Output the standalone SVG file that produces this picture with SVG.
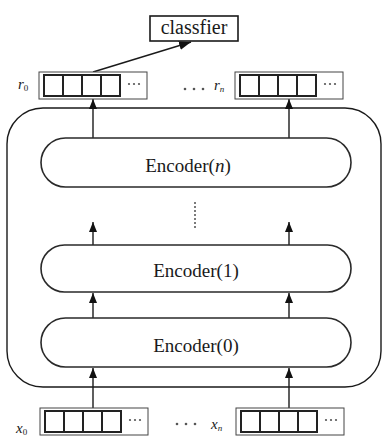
<svg xmlns="http://www.w3.org/2000/svg" width="388" height="441" viewBox="0 0 388 441">
<defs>
<style>
.ln{stroke:#1a1a1a;stroke-width:1.4;fill:none}
.pill{stroke:#2a2a2a;stroke-width:1.6;fill:#fff}
.vo{stroke:#444;stroke-width:1;fill:#fff}
.vc{stroke:#222;stroke-width:2;fill:#fff}
.dv{stroke:#222;stroke-width:2}
.dot{fill:#555}
.t{font-family:"Liberation Serif","Times New Roman",serif;fill:#1a1a1a}
.lab{font-family:"Liberation Serif","Times New Roman",serif;font-style:italic;font-size:15px;fill:#1a1a1a}
.sub{font-size:9px;font-style:normal}
.subi{font-size:9px}
</style>
<marker id="ah" viewBox="0 0 10 8" refX="10" refY="4" markerWidth="10" markerHeight="8" markerUnits="userSpaceOnUse" orient="auto">
<path d="M0,0 L10,4 L0,8 Z" fill="#111"/>
</marker>
<marker id="ahb" viewBox="0 0 12 9" refX="12" refY="4.5" markerWidth="12" markerHeight="9" markerUnits="userSpaceOnUse" orient="auto">
<path d="M0,0 L12,4.5 L0,9 Z" fill="#111"/>
</marker>
</defs>
<rect width="388" height="441" fill="#fff"/>

<g id="container">
<rect x="7" y="108" width="374" height="279" rx="36" ry="36" class="ln" stroke-width="1.6"/>
</g>

<g id="connectors">
<line x1="93" y1="72" x2="191" y2="42" class="ln" marker-end="url(#ahb)"/>
<line x1="93" y1="138" x2="93" y2="99" class="ln" marker-end="url(#ah)"/>
<line x1="289" y1="138" x2="289" y2="99" class="ln" marker-end="url(#ah)"/>
<line x1="93" y1="245" x2="93" y2="222" class="ln" marker-end="url(#ah)"/>
<line x1="289" y1="245" x2="289" y2="222" class="ln" marker-end="url(#ah)"/>
<line x1="93" y1="318" x2="93" y2="293" class="ln" marker-end="url(#ah)"/>
<line x1="289" y1="318" x2="289" y2="293" class="ln" marker-end="url(#ah)"/>
<line x1="93" y1="408" x2="93" y2="368" class="ln" marker-end="url(#ah)"/>
<line x1="289" y1="408" x2="289" y2="368" class="ln" marker-end="url(#ah)"/>
<line x1="195" y1="202" x2="195" y2="228" stroke="#444" stroke-width="1.4" stroke-dasharray="2 2"/>
</g>

<g id="classifier">
<rect x="150" y="16" width="88" height="25" fill="#fff" stroke="#1a1a1a" stroke-width="1.6"/>
<text x="194" y="34" text-anchor="middle" class="t" font-size="20">classfier</text>
</g>

<g id="encoder-n">
<rect x="41" y="138" width="310" height="49" rx="24.5" class="pill"/>
<text x="188" y="172" text-anchor="middle" class="t" font-size="19">Encoder(<tspan font-style="italic">n</tspan>)</text>
</g>

<g id="encoder-1">
<rect x="41" y="245" width="310" height="47" rx="23.5" class="pill"/>
<text x="196" y="277" text-anchor="middle" class="t" font-size="19">Encoder(1)</text>
</g>

<g id="encoder-0">
<rect x="41" y="318" width="310" height="49" rx="24.5" class="pill"/>
<text x="196" y="352" text-anchor="middle" class="t" font-size="19">Encoder(0)</text>
</g>

<g id="r0">
<text x="18" y="89" class="lab">r<tspan class="sub" dy="2">0</tspan></text>
<rect x="39" y="72" width="108" height="27" class="vo"/>
<rect x="44" y="75" width="76" height="21" class="vc"/>
<line x1="63" y1="75" x2="63" y2="96" class="dv"/>
<line x1="82" y1="75" x2="82" y2="96" class="dv"/>
<line x1="101" y1="75" x2="101" y2="96" class="dv"/>
<circle cx="129" cy="84" r="1.1" class="dot"/><circle cx="134" cy="84" r="1.1" class="dot"/><circle cx="139" cy="84" r="1.1" class="dot"/>
</g>

<g id="r-dots">
<circle cx="185" cy="89" r="1.3" class="dot"/><circle cx="194" cy="89" r="1.3" class="dot"/><circle cx="203" cy="89" r="1.3" class="dot"/>
</g>

<g id="rn">
<text x="214" y="90" class="lab">r<tspan class="subi" dy="2">n</tspan></text>
<rect x="235" y="72" width="108" height="27" class="vo"/>
<rect x="240" y="75" width="76" height="21" class="vc"/>
<line x1="259" y1="75" x2="259" y2="96" class="dv"/>
<line x1="278" y1="75" x2="278" y2="96" class="dv"/>
<line x1="297" y1="75" x2="297" y2="96" class="dv"/>
<circle cx="325" cy="84" r="1.1" class="dot"/><circle cx="330" cy="84" r="1.1" class="dot"/><circle cx="335" cy="84" r="1.1" class="dot"/>
</g>

<g id="x0">
<text x="16" y="433" class="lab">x<tspan class="sub" dy="2">0</tspan></text>
<rect x="40" y="408" width="108" height="27" class="vo"/>
<rect x="45" y="411" width="76" height="21" class="vc"/>
<line x1="64" y1="411" x2="64" y2="432" class="dv"/>
<line x1="83" y1="411" x2="83" y2="432" class="dv"/>
<line x1="102" y1="411" x2="102" y2="432" class="dv"/>
<circle cx="130" cy="420" r="1.1" class="dot"/><circle cx="135" cy="420" r="1.1" class="dot"/><circle cx="140" cy="420" r="1.1" class="dot"/>
</g>

<g id="x-dots">
<circle cx="177" cy="424" r="1.3" class="dot"/><circle cx="186" cy="424" r="1.3" class="dot"/><circle cx="195" cy="424" r="1.3" class="dot"/>
</g>

<g id="xn">
<text x="211" y="429" class="lab">x<tspan class="subi" dy="2">n</tspan></text>
<rect x="236" y="408" width="108" height="27" class="vo"/>
<rect x="241" y="411" width="76" height="21" class="vc"/>
<line x1="260" y1="411" x2="260" y2="432" class="dv"/>
<line x1="279" y1="411" x2="279" y2="432" class="dv"/>
<line x1="298" y1="411" x2="298" y2="432" class="dv"/>
<circle cx="326" cy="420" r="1.1" class="dot"/><circle cx="331" cy="420" r="1.1" class="dot"/><circle cx="336" cy="420" r="1.1" class="dot"/>
</g>
</svg>
